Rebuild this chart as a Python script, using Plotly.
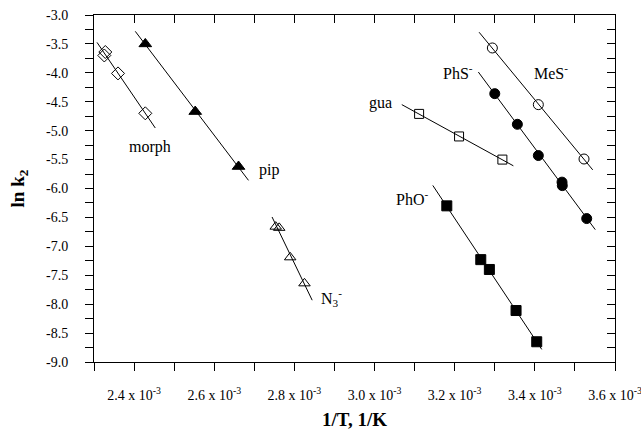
import numpy as np
import plotly.graph_objects as go

# ---- data (x in 1/K, y = ln k2) ----
morph_x = [0.0023282, 0.0023257, 0.0023599, 0.0024280]
morph_y = [-3.64, -3.70, -4.01, -4.70]
morph_fit = [0.0023075, 0.0024529]

pip_x = [0.0024280, 0.0025526, 0.0026606]
pip_y = [-3.50, -4.67, -5.62]
pip_fit = [0.0024030, 0.0026855]

n3_x = [0.0027534, 0.0027621, 0.0027895, 0.0028252]
n3_y = [-6.66, -6.68, -7.19, -7.64]
n3_fit = [0.0027443, 0.0028444]

gua_x = [0.0031112, 0.0032109, 0.0033190]
gua_y = [-4.71, -5.10, -5.50]
gua_fit = [0.0030680, 0.0033464]

pho_x = [0.0031803, 0.0032651, 0.0032865, 0.0033531, 0.0034047]
pho_y = [-6.30, -7.23, -7.40, -8.11, -8.65]
pho_fit = [0.0031454, 0.0034172]

phs_x = [0.0033000, 0.0033564, 0.0034087, 0.0034678, 0.0034685, 0.0035294]
phs_y = [-4.36, -4.89, -5.43, -5.89, -5.95, -6.52]
phs_fit = [0.0032590, 0.0035508]

mes_x = [0.0032940, 0.0034087, 0.0035227]
mes_y = [-3.57, -4.55, -5.49]
mes_fit = [0.0032609, 0.0035444]

label_text = ["morph", "pip", "N<sub>3</sub><sup>-</sup>", "gua",
              "PhO<sup>-</sup>", "PhS<sup>-</sup>", "MeS<sup>-</sup>"]
label_x = [0.0024406, 0.0027376, 0.0028920, 0.0030144, 0.0030942, 0.0032093, 0.0034412]
label_y = [-5.276, -5.68, -7.90, -4.52, -6.165, -3.994, -3.994]

x_tickvals = [round(0.0023 + 0.0001 * i, 5) for i in range(14)]
x_ticktext = ["", "2.4 x 10<sup>-3</sup>", "", "2.6 x 10<sup>-3</sup>", "",
              "2.8 x 10<sup>-3</sup>", "", "3.0 x 10<sup>-3</sup>", "",
              "3.2 x 10<sup>-3</sup>", "", "3.4 x 10<sup>-3</sup>", "",
              "3.6 x 10<sup>-3</sup>"]
y_tickvals = [-3.0 - 0.25 * i for i in range(25)]
y_ticktext = [("%.1f" % v if i % 2 == 0 else "") for i, v in enumerate(y_tickvals)]

X_RANGE = [0.0023 - 1e-9, 0.0036 + 1e-9]
Y_RANGE = [-9.0 - 1e-6, -3.0 + 1e-6]

FONT = "Liberation Serif, Times New Roman, serif"

series = [
    (morph_x, morph_y, morph_fit, "diamond-open", 10),
    (pip_x, pip_y, pip_fit, "triangle-up", 11),
    (n3_x, n3_y, n3_fit, "triangle-up-open", 10),
    (gua_x, gua_y, gua_fit, "square-open", 9),
    (pho_x, pho_y, pho_fit, "square", 10),
    (phs_x, phs_y, phs_fit, "circle", 10),
    (mes_x, mes_y, mes_fit, "circle-open", 10),
]

fig = go.Figure()
for xs, ys, fit, sym, size in series:
    coef = np.polyfit(np.array(xs), np.array(ys), 1)
    fx = np.array(fit)
    fig.add_trace(go.Scatter(x=fx, y=np.polyval(coef, fx), mode="lines",
                             line=dict(color="black", width=1),
                             showlegend=False, hoverinfo="skip"))
    fig.add_trace(go.Scatter(x=xs, y=ys, mode="markers",
                             marker=dict(symbol=sym, size=size, color="black",
                                         line=dict(color="black", width=1)),
                             showlegend=False))

# hidden copies so the mirrored top/right axes (inward ticks) get drawn
fig.add_trace(go.Scatter(x=morph_x, y=morph_y, xaxis="x2", yaxis="y", mode="markers",
                         marker=dict(opacity=0), showlegend=False, hoverinfo="skip"))
fig.add_trace(go.Scatter(x=morph_x, y=morph_y, xaxis="x", yaxis="y2", mode="markers",
                         marker=dict(opacity=0), showlegend=False, hoverinfo="skip"))

for t, x, y in zip(label_text, label_x, label_y):
    fig.add_annotation(x=x, y=y, text=t, showarrow=False,
                       font=dict(family=FONT, size=16, color="black"),
                       xanchor="center", yanchor="middle")

axis_common = dict(showgrid=False, zeroline=False, linecolor="black", linewidth=1,
                   ticklen=8, tickwidth=1, tickcolor="black", automargin=False)

fig.update_layout(
    width=641, height=432,
    margin=dict(l=94, r=26, t=15, b=70),
    plot_bgcolor="white", paper_bgcolor="white",
    font=dict(family=FONT, size=14, color="black"),
    xaxis=dict(range=X_RANGE, tickmode="array", tickvals=x_tickvals, ticktext=x_ticktext,
               ticks="outside", showline=True, ticklabeloverflow="allow",
               title=dict(text="<b>1/T, 1/K</b>", font=dict(family=FONT, size=19), standoff=10),
               tickfont=dict(family=FONT, size=14), ticklabelstandoff=12, **axis_common),
    yaxis=dict(range=Y_RANGE, tickmode="array", tickvals=y_tickvals, ticktext=y_ticktext,
               ticks="outside", showline=True, ticklabeloverflow="allow",
               title=dict(text="<b>ln k<sub>2</sub></b>", font=dict(family=FONT, size=19), standoff=16),
               tickfont=dict(family=FONT, size=14), ticklabelstandoff=14, **axis_common),
    xaxis2=dict(range=X_RANGE, overlaying="x", side="top", anchor="y", tickmode="array",
                tickvals=x_tickvals, ticks="inside", showticklabels=False, showline=True,
                **axis_common),
    yaxis2=dict(range=Y_RANGE, overlaying="y", side="right", anchor="x", tickmode="array",
                tickvals=y_tickvals, ticks="inside", showticklabels=False, showline=True,
                **axis_common),
)

fig.write_html("out.html", config={"displayModeBar": False},
               post_script="document.body.style.margin='0px';")
